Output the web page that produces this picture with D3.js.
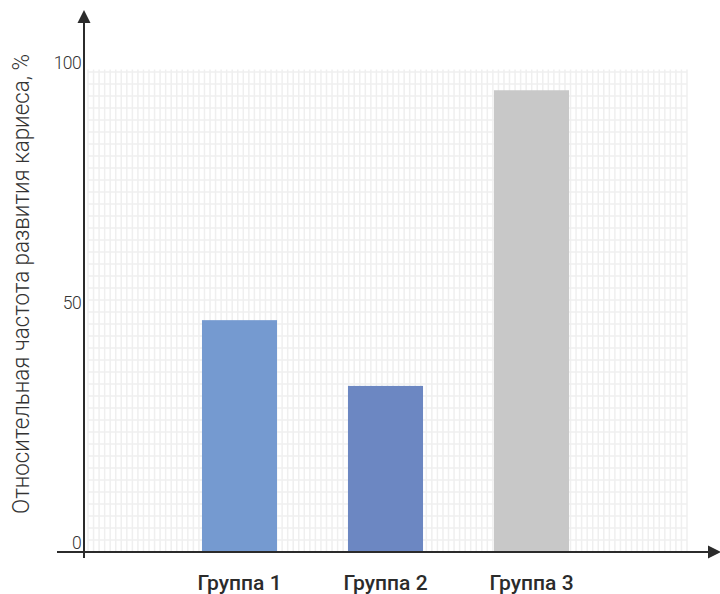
<!DOCTYPE html>
<html><head><meta charset="utf-8">
<script src="https://cdn.jsdelivr.net/npm/d3@7"></script>
<style>html,body{margin:0;padding:0;background:#fff;}</style>
</head><body>
<svg id="c" width="720" height="594"></svg>
<script>
const categories = ["Группа 1", "Группа 2", "Группа 3"];
const values = [48.3, 34.6, 96.2];
const colors = ["#759ad0", "#6c87c2", "#c8c8c8"];
const yTicks = [0, 50, 100];
const yTitle = "Относительная частота развития кариеса, %";

const svg = d3.select("#c");
const gridL = 88, gridR = 687, yTop = 72, yBot = 552;
const y = d3.scaleLinear().domain([0, 100]).range([yBot, yTop]);
const gx = d3.scaleLinear().domain([0, 108]).range([gridL, gridR]);
const x = d3.scaleBand().domain(categories).range([166.5, 604.5]).paddingInner(0.486).paddingOuter(0.243);

// grid
const grid = svg.append("g");
grid.selectAll("line.v").data(d3.range(0, 109)).enter().append("line")
  .attr("x1", d => gx(d)).attr("x2", d => gx(d))
  .attr("y1", y(100.5)).attr("y2", yBot)
  .attr("stroke", "#efefef").attr("stroke-width", 1.5);
grid.selectAll("line.h").data(d3.range(0, 101, 2.5)).enter().append("line")
  .attr("x1", gridL).attr("x2", gridR)
  .attr("y1", d => y(d)).attr("y2", d => y(d))
  .attr("stroke", "#efefef").attr("stroke-width", 1.5);

// bars
svg.append("g").selectAll("rect").data(values).enter().append("rect")
  .attr("x", (d, i) => x(categories[i]))
  .attr("width", x.bandwidth())
  .attr("y", d => y(d))
  .attr("height", d => y(0) - y(d))
  .attr("fill", (d, i) => colors[i]);

// axes
const ax = svg.append("g").attr("stroke", "#2b2b2b").attr("stroke-width", 2);
ax.append("line").attr("x1", 57).attr("x2", 712).attr("y1", yBot).attr("y2", yBot);
ax.append("line").attr("x1", 84).attr("x2", 84).attr("y1", 22).attr("y2", 558);
svg.append("path").attr("d", "M84,10 L90.5,23 L77.5,23 Z").attr("fill", "#2b2b2b");
svg.append("path").attr("d", "M721,552 L708,545.5 L708,558.5 Z").attr("fill", "#2b2b2b");

// y tick labels
svg.append("g").selectAll("text").data(yTicks).enter().append("text")
  .attr("x", 81).attr("y", d => y(d) - 3)
  .attr("text-anchor", "end")
  .attr("font-family", "Roboto, sans-serif").attr("font-weight", 300)
  .attr("font-size", 17.5).attr("fill", "#333")
  .attr("letter-spacing", -0.6)
  .text(d => d);

// x labels
svg.append("g").selectAll("text").data(categories).enter().append("text")
  .attr("x", d => x(d) + x.bandwidth() / 2).attr("y", 590)
  .attr("text-anchor", "middle")
  .attr("font-family", "Roboto, sans-serif").attr("font-weight", 500)
  .attr("font-size", 21).attr("fill", "#2b2b2b")
  .text(d => d);

// y title
svg.append("text")
  .attr("transform", "translate(29,284) rotate(-90)")
  .attr("text-anchor", "middle")
  .attr("font-family", "Roboto, sans-serif").attr("font-weight", 300)
  .attr("font-size", 23).attr("fill", "#333")
  .attr("textLength", 460).attr("lengthAdjust", "spacingAndGlyphs")
  .text(yTitle);
</script>
</body></html>
